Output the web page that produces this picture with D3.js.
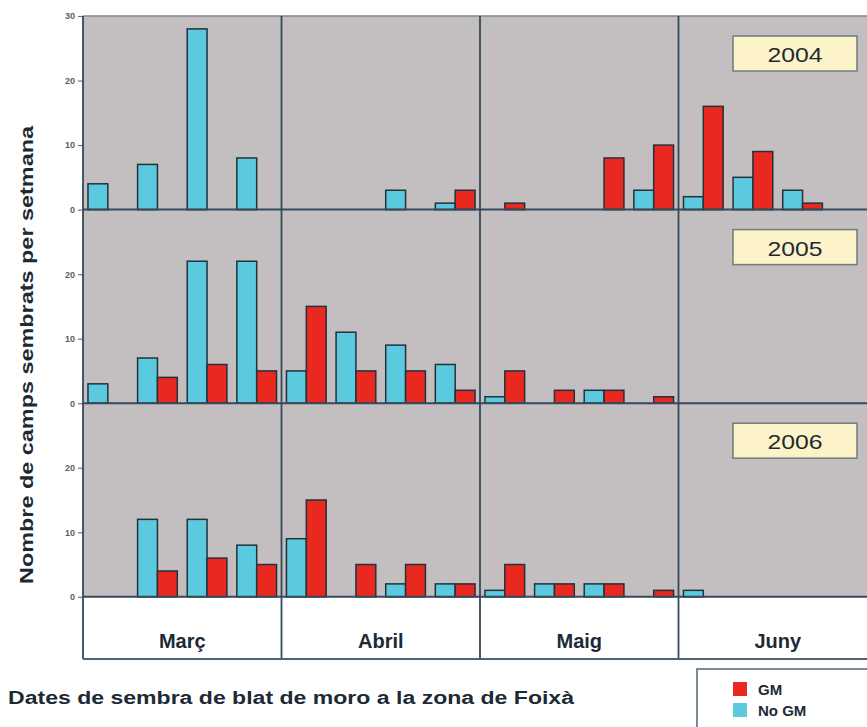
<!DOCTYPE html>
<html>
<head>
<meta charset="utf-8">
<script src="https://cdn.jsdelivr.net/npm/d3@7"></script>
<style>
  html, body { margin: 0; padding: 0; background: #ffffff; }
  svg { display: block; font-family: "Liberation Sans", Arial, sans-serif; }
</style>
</head>
<body>
<svg id="chart" width="867" height="727"></svg>
<script>
// Sowing weeks: four per month, March to June
const months = ["Març", "Abril", "Maig", "Juny"];
const weeks = d3.range(16);
const years = ["2004", "2005", "2006"];
const seriesKeys = ["noGM", "gm"];
const seriesLabels = ["GM", "No GM"];
const yTicksTop = [0, 10, 20, 30];
const yTicksLower = [0, 10, 20];

// Fields sown per week (No GM / GM), one value per week
const noGM2004 = [4, 7, 28, 8, 0, 0, 3, 1, 0, 0, 0, 3, 2, 5, 3, 0];
const gm2004   = [0, 0, 0, 0, 0, 0, 0, 3, 1, 0, 8, 10, 16, 9, 1, 0];
const noGM2005 = [3, 7, 22, 22, 5, 11, 9, 6, 1, 0, 2, 0, 0, 0, 0, 0];
const gm2005   = [0, 4, 6, 5, 15, 5, 5, 2, 5, 2, 2, 1, 0, 0, 0, 0];
const noGM2006 = [0, 12, 12, 8, 9, 0, 2, 2, 1, 2, 2, 0, 1, 0, 0, 0];
const gm2006   = [0, 4, 6, 5, 15, 5, 5, 2, 5, 2, 2, 1, 0, 0, 0, 0];

const panels = [
  { year: years[0], noGM: noGM2004, gm: gm2004, ticks: yTicksTop },
  { year: years[1], noGM: noGM2005, gm: gm2005, ticks: yTicksLower },
  { year: years[2], noGM: noGM2006, gm: gm2006, ticks: yTicksLower }
];

const colors = { gm: "#e9291f", noGM: "#5bc9de" };
const plotBg = "#c3bfc0";
const lineCol = "#34495a";

const svg = d3.select("#chart");
const plotLeft = 83, plotRight = 877, plotTop = 16, panelH = 193.6;
const bandBottom = plotTop + 3 * panelH;   // baseline of the last panel
const labelBottom = 659;

// Horizontal scales: one band per week, one sub-band per series
const x0 = d3.scaleBand().domain(weeks).range([plotLeft, plotRight]).paddingInner(0.2).paddingOuter(0.1);
const x1 = d3.scaleBand().domain(seriesKeys).range([0, x0.bandwidth()]);
const xMonth = d3.scaleBand().domain(months).range([plotLeft, plotRight]);

// Plot background
svg.append("rect")
  .attr("x", plotLeft).attr("y", plotTop)
  .attr("width", plotRight - plotLeft).attr("height", bandBottom - plotTop)
  .attr("fill", plotBg);

panels.forEach((p, i) => {
  const py = plotTop + i * panelH;
  const y = d3.scaleLinear().domain([0, 30]).range([py + panelH, py]);
  const g = svg.append("g");

  // Bars
  seriesKeys.forEach(key => {
    g.selectAll(null)
      .data(p[key].map((v, w) => ({ w, v })).filter(d => d.v > 0))
      .join("rect")
      .attr("x", d => x0(d.w) + x1(key))
      .attr("y", d => y(d.v))
      .attr("width", x1.bandwidth())
      .attr("height", d => y(0) - y(d.v))
      .attr("fill", colors[key])
      .attr("stroke", "#23313c")
      .attr("stroke-width", 1.5);
  });

  // Left axis
  const axis = d3.axisLeft(y).tickValues(p.ticks).tickSize(5).tickPadding(3);
  const ag = svg.append("g").attr("transform", `translate(${plotLeft},0)`).call(axis);
  ag.select(".domain").remove();
  ag.selectAll(".tick line").attr("stroke", "#6a7a86").attr("stroke-width", 1.2);
  ag.selectAll(".tick text")
    .attr("fill", "#555f66").attr("font-size", 9).attr("font-weight", "bold")
    .attr("font-family", "Liberation Sans, Arial, sans-serif");

  // Year tag
  const bx = 733, by = py + 20, bw = 124, bh = 35;
  svg.append("rect")
    .attr("x", bx).attr("y", by).attr("width", bw).attr("height", bh)
    .attr("fill", "#fcf4c8").attr("stroke", "#6f7b80").attr("stroke-width", 1.5);
  svg.append("text")
    .attr("x", bx + bw / 2).attr("y", by + 26)
    .attr("text-anchor", "middle")
    .attr("font-size", 21).attr("fill", "#1e2a33")
    .attr("textLength", 55).attr("lengthAdjust", "spacingAndGlyphs")
    .text(p.year);

  // Panel baseline
  svg.append("line")
    .attr("x1", plotLeft).attr("x2", plotRight)
    .attr("y1", y(0)).attr("y2", y(0))
    .attr("stroke", lineCol).attr("stroke-width", 2);
});

// Top frame line
svg.append("line")
  .attr("x1", plotLeft).attr("x2", plotRight).attr("y1", plotTop).attr("y2", plotTop)
  .attr("stroke", "#7d8a92").attr("stroke-width", 1.5);

// Month separators running through the panels and the label strip
months.forEach(m => {
  svg.append("line")
    .attr("x1", xMonth(m)).attr("x2", xMonth(m))
    .attr("y1", plotTop).attr("y2", labelBottom)
    .attr("stroke", lineCol).attr("stroke-width", 1.8);
  svg.append("text")
    .attr("x", xMonth(m) + xMonth.bandwidth() / 2).attr("y", 648)
    .attr("text-anchor", "middle")
    .attr("font-size", 20).attr("font-weight", "bold").attr("fill", "#1d2a35")
    .text(m);
});

// Bottom line of the label strip
svg.append("line")
  .attr("x1", plotLeft).attr("x2", plotRight).attr("y1", labelBottom).attr("y2", labelBottom)
  .attr("stroke", "#4d6272").attr("stroke-width", 1.8);

// Y-axis title
svg.append("text")
  .attr("transform", `translate(33,355) rotate(-90)`)
  .attr("text-anchor", "middle")
  .attr("font-size", 19).attr("font-weight", "bold").attr("fill", "#1d2a35")
  .attr("textLength", 458).attr("lengthAdjust", "spacingAndGlyphs")
  .text("Nombre de camps sembrats per setmana");

// Caption below the chart
svg.append("text")
  .attr("x", 8).attr("y", 704)
  .attr("font-size", 18).attr("font-weight", "bold").attr("fill", "#1d2a35")
  .attr("textLength", 566).attr("lengthAdjust", "spacingAndGlyphs")
  .text("Dates de sembra de blat de moro a la zona de Foixà");

// Legend
const lg = svg.append("g");
lg.append("rect")
  .attr("x", 697).attr("y", 669).attr("width", 200).attr("height", 80)
  .attr("fill", "#ffffff").attr("stroke", "#6d7f8c").attr("stroke-width", 1.8);
[["gm", seriesLabels[0]], ["noGM", seriesLabels[1]]].forEach(([key, label], i) => {
  const ly = 682 + i * 21;
  lg.append("rect")
    .attr("x", 733).attr("y", ly).attr("width", 14).attr("height", 14)
    .attr("fill", colors[key]);
  lg.append("text")
    .attr("x", 758).attr("y", ly + 13)
    .attr("font-size", 15).attr("font-weight", "bold").attr("fill", "#1d2a35")
    .text(label);
});
</script>
</body>
</html>
